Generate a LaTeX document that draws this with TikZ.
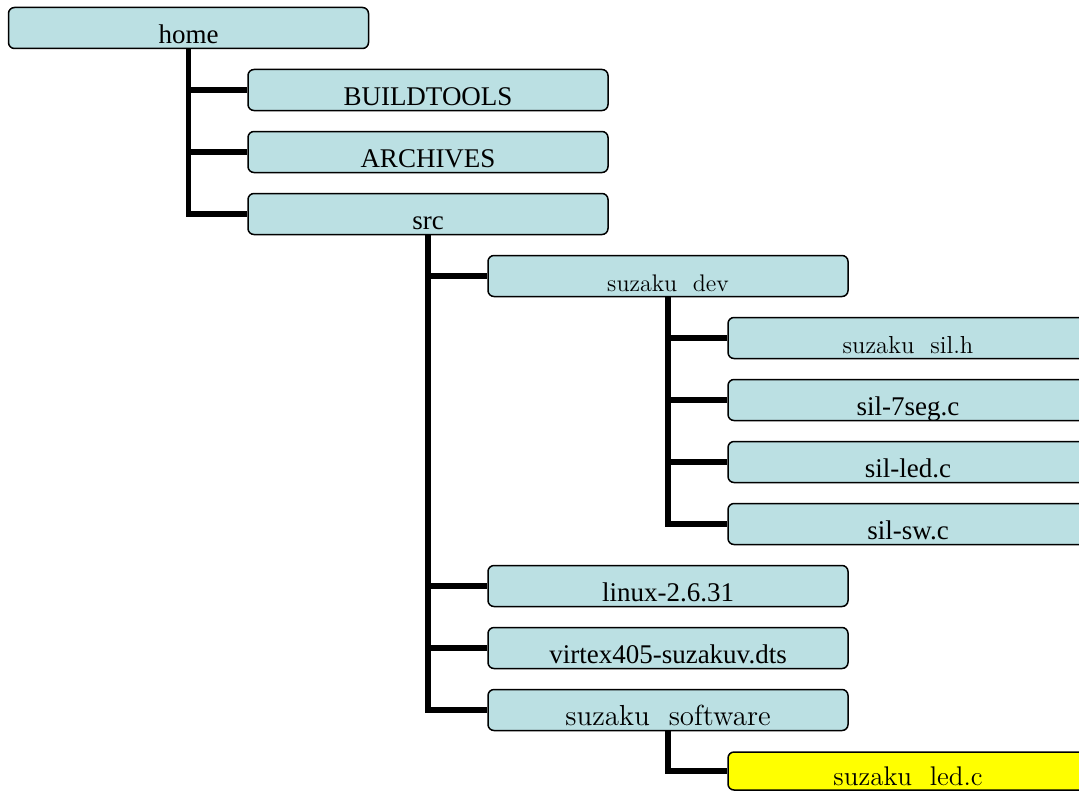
\documentclass[tikz,border=0pt]{standalone}
\usepackage{fontspec}
\usepackage{tikz}
\usetikzlibrary{positioning}
\newfontfamily\timesfont{Liberation Serif}
\definecolor{dirfill}{RGB}{187,224,227}
\definecolor{hilite}{RGB}{255,255,0}

\begin{document}
\begin{tikzpicture}[x=0.5pt,y=-0.5pt,
  dirbox/.style={draw,line width=0.75pt,rounded corners=3pt,fill=dirfill,
    minimum width=180pt,minimum height=20.5pt,inner sep=0pt,
    text height=18pt,text depth=2.5pt},
  tms/.style={font=\timesfont\fontsize{13.5}{15}\selectfont},
  cmr/.style={font=\fontsize{#1}{15}\selectfont},
  branch/.style={line width=2.75pt}]
  \useasboundingbox (0,0) rectangle (1079,792);
  % top level
  \node[dirbox,tms] (home) at (188.5,28) {home};
  \node[dirbox,tms] (bt) at (428,90) {BUILDTOOLS};
  \node[dirbox,tms] (arch) at (428,152) {ARCHIVES};
  \node[dirbox,tms] (src) at (428,214) {src};
  % src
  \node[dirbox,cmr=12] (dev) at (668,276) {suzaku\ \ dev};
  \node[dirbox,tms] (linux) at (668,586) {linux-2.6.31};
  \node[dirbox,tms] (dts) at (668,648) {virtex405-suzakuv.dts};
  \node[dirbox,cmr=14.5] (soft) at (668,710) {suzaku\ \ software};
  % suzaku dev
  \node[dirbox,cmr=12.3] (silh) at (908,338) {suzaku\ \ sil.h};
  \node[dirbox,tms] (seg) at (908,400) {sil-7seg.c};
  \node[dirbox,tms] (led) at (908,462) {sil-led.c};
  \node[dirbox,tms] (sw) at (908,524) {sil-sw.c};
  % suzaku software
  \node[dirbox,cmr=13.5,fill=hilite,minimum height=19pt,text height=16.5pt] (ledc) at (908,771) {suzaku\ \ led.c};

  \foreach \c in {bt,arch,src} \draw[branch] (home.south) |- (\c.west);
  \foreach \c in {dev,linux,dts,soft} \draw[branch] (src.south) |- (\c.west);
  \foreach \c in {silh,seg,led,sw} \draw[branch] (dev.south) |- (\c.west);
  \draw[branch] (soft.south) |- (ledc.west);
\end{tikzpicture}
\end{document}
